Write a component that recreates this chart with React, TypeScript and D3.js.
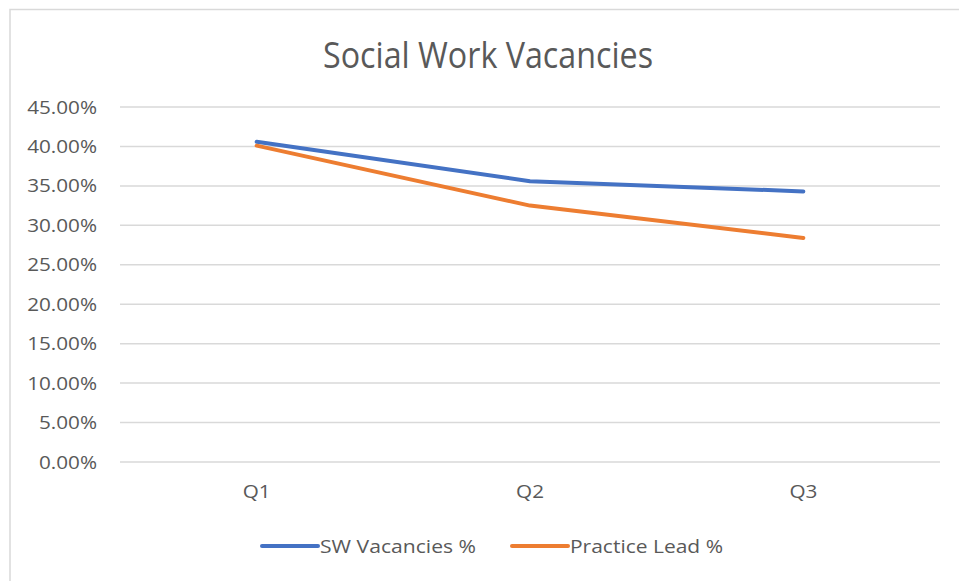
import React from "react";
import * as d3 from "d3";

const categories = ["Q1", "Q2", "Q3"];
const swVacancies = [0.406, 0.356, 0.343];
const practiceLead = [0.401, 0.325, 0.284];
const yTicks = [0, 0.05, 0.1, 0.15, 0.2, 0.25, 0.3, 0.35, 0.4, 0.45];
const seriesNames = ["SW Vacancies %", "Practice Lead %"];
const seriesColors = ["#4472C4", "#ED7D31"];
const title = "Social Work Vacancies";

const W = 959;
const H = 581;
const plot = { left: 120, right: 940, top: 107, bottom: 462 };
const FONT = "'Open Sans', sans-serif";
const TEXT = "#595959";

export default function App() {
  const x = d3.scaleBand<string>().domain(categories).range([plot.left, plot.right]);
  const y = d3.scaleLinear().domain([0, 0.45]).range([plot.bottom, plot.top]);
  const fmt = d3.format(".2%");
  const line = d3
    .line<number>()
    .x((_, i) => (x(categories[i]) as number) + x.bandwidth() / 2)
    .y((d) => y(d));
  const series = [swVacancies, practiceLead];

  return (
    <svg
      width={W}
      height={H}
      style={{ position: "absolute", left: 0, top: 0, background: "#fff" }}
      fontFamily={FONT}
    >
      <rect x={0} y={0} width={W} height={H} fill="#fff" />
      <path d={`M10,${H} L10,9.5 L${W},9.5`} fill="none" stroke="#d9d9d9" strokeWidth={1.5} />
      <text
        x={488}
        y={68}
        textAnchor="middle"
        fontSize={36}
        fill={TEXT}
        textLength={330}
        lengthAdjust="spacingAndGlyphs"
      >
        {title}
      </text>
      {yTicks.map((t) => (
        <g key={t}>
          <line
            x1={plot.left}
            x2={plot.right}
            y1={y(t)}
            y2={y(t)}
            stroke="#d9d9d9"
            strokeWidth={1.5}
          />
          <g transform={`translate(97,${y(t) + 6.5}) scale(1.15,1)`}>
            <text x={0} y={0} textAnchor="end" fontSize={18} fill={TEXT}>
              {fmt(t)}
            </text>
          </g>
        </g>
      ))}
      {categories.map((c) => (
        <g
          key={c}
          transform={`translate(${(x(c) as number) + x.bandwidth() / 2},498) scale(1.15,1)`}
        >
          <text x={0} y={0} textAnchor="middle" fontSize={18} fill={TEXT}>
            {c}
          </text>
        </g>
      ))}
      {series.map((s, i) => (
        <path
          key={i}
          d={line(s) as string}
          fill="none"
          stroke={seriesColors[i]}
          strokeWidth={4}
          strokeLinecap="round"
          strokeLinejoin="round"
        />
      ))}
      {seriesNames.map((n, i) => {
        const lx = [262, 512][i];
        const tw = [156, 153][i];
        return (
          <g key={n}>
            <line
              x1={lx}
              x2={lx + 56}
              y1={546}
              y2={546}
              stroke={seriesColors[i]}
              strokeWidth={4}
              strokeLinecap="round"
            />
            <text
              x={lx + 58}
              y={552.5}
              fontSize={19}
              fill={TEXT}
              textLength={tw}
              lengthAdjust="spacingAndGlyphs"
            >
              {n}
            </text>
          </g>
        );
      })}
    </svg>
  );
}
